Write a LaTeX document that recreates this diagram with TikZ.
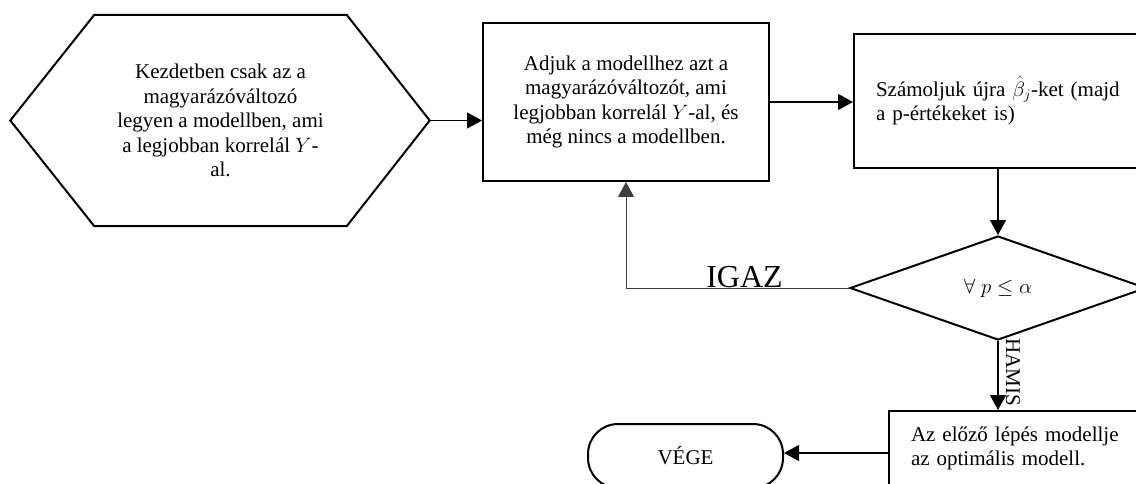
\documentclass[tikz,border=0pt]{standalone}
\usepackage{fontspec}
\setmainfont{Liberation Serif}
\usetikzlibrary{arrows.meta,shapes.geometric}
\begin{document}
\begin{tikzpicture}[x=1pt,y=-1pt,
  every node/.style={font=\fontsize{21}{24.5}\selectfont},
  shapeline/.style={draw=black,line width=2pt},
  stepbox/.style={shapeline,rectangle,inner sep=0pt},
  flow/.style={draw=black,line width=1.2pt,-{Triangle[length=15pt,width=16pt]}},
  back/.style={draw=black!75,line width=1pt,-{Triangle[length=15pt,width=16pt]}},
]
\useasboundingbox (0,0) rectangle (1136,484);
\clip (0,0) rectangle (1136,484);

% start step: hexagon drawn around a text node
\node[align=center,minimum width=252pt,minimum height=211pt,inner sep=0pt] (start) at (220.5,120.5)
  {Kezdetben csak az a\\magyarázóváltozó\\legyen a modellben, ami\\a legjobban korrelál $Y$-\\al.};
\coordinate (startW) at ([xshift=-84pt]start.west);
\coordinate (startE) at ([xshift=83pt]start.east);
\draw[shapeline] (start.north west) -- (start.north east) -- (startE) -- (start.south east)
  -- (start.south west) -- (startW) -- cycle;

% add the best correlated variable
\node[stepbox,align=center,minimum width=286pt,minimum height=158pt] (add) at (626,102)
  {Adjuk a modellhez azt a\\magyarázóváltozót, ami\\legjobban korrelál $Y$-al, és\\még nincs a modellben.};

% recompute the estimates
\node[stepbox,anchor=west,align=left,text width=276pt,inner xsep=22pt,minimum height=134pt] (recalc) at (853,101)
  {Számoljuk újra $\hat{\beta}_j$-ket (majd\\a p-értékeket is)};

% test
\node[shapeline,diamond,minimum width=296pt,minimum height=104pt,inner sep=0pt,
  font=\fontsize{20}{24}\selectfont] (test) at (998,288) {$\forall\;p\le\alpha$};

% result
\node[stepbox,anchor=north west,align=left,text width=260pt,inner xsep=22pt,minimum height=75pt] (result) at (888,410)
  {Az előző lépés modellje\\az optimális modell.};

% end
\node[shapeline,rectangle,rounded corners=30pt,minimum width=195pt,minimum height=64pt,inner sep=0pt] (stop) at (685.5,456) {VÉGE};

% branch labels
\node[font=\fontsize{32}{36}\selectfont,anchor=base,inner sep=0pt] (igaz) at (744.5,287) {IGAZ};
\node[rotate=-90,anchor=base west,inner sep=0pt] (hamis) at (1006,338) {HAMIS};

% connectors
\draw[flow] (startE) -- (startE -| add.west);
\draw[flow] (add.east) -- (add.east -| recalc.west);
\draw[flow] (recalc.south -| test.north) -- (test.north);
\draw[back] (test.west) -| (add.south);
\draw[flow] (test.south) -- (test.south |- result.north);
\draw[flow] ([yshift=-4.5pt]result.west) -- ([yshift=-4.5pt]result.west -| stop.east);
\end{tikzpicture}
\end{document}
